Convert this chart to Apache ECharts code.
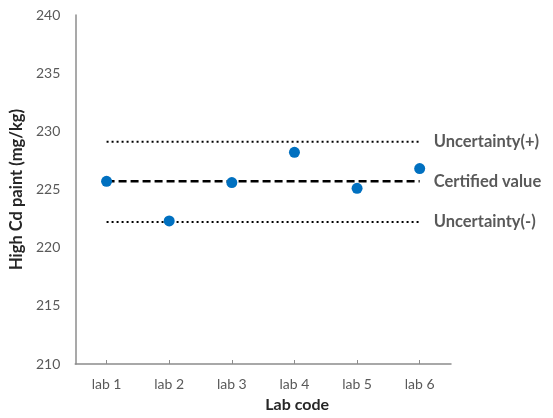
<!DOCTYPE html>
<html>
<head>
<meta charset="utf-8">
<script src="https://cdn.jsdelivr.net/npm/echarts@6/dist/echarts.min.js"></script>
<style>
  html, body { margin: 0; padding: 0; background: #fff; }
  #chart { width: 553px; height: 418px; }
</style>
</head>
<body>
<div id="chart"></div>
<script>
// Lab codes along the x axis
const labs = ['lab 1', 'lab 2', 'lab 3', 'lab 4', 'lab 5', 'lab 6'];
// Measured High Cd paint results per lab (mg/kg)
const measured = [225.7, 222.3, 225.6, 228.2, 225.1, 226.8];
// Reference lines (mg/kg)
const certifiedValue = 225.7;
const uncertaintyUpper = 229.1;
const uncertaintyLower = 222.2;
// Y axis range
const yMin = 210, yMax = 240, yStep = 5;

const textColor = '#595959';
const fontFamily = 'Lato, "Liberation Sans", sans-serif';

function refLine(name, value, type, width) {
  return {
    name: name,
    type: 'line',
    data: labs.map(() => value),
    symbol: 'none',
    silent: true,
    z: 2,
    lineStyle: { color: '#000', width: width, type: type },
    endLabel: {
      show: true,
      formatter: name,
      distance: 14,
      color: textColor,
      fontFamily: fontFamily,
      fontWeight: 'bold',
      fontSize: 16.5
    }
  };
}

const chart = echarts.init(document.getElementById('chart'));
chart.setOption({
  animation: false,
  backgroundColor: '#fff',
  grid: { left: 73, right: 102, top: 15, bottom: 51 },
  xAxis: {
    type: 'category',
    data: labs,
    boundaryGap: true,
    name: 'Lab code',
    nameLocation: 'middle',
    nameGap: 33,
    nameTextStyle: {
      color: '#262626', fontFamily: fontFamily, fontWeight: 'bold', fontSize: 16,
      padding: [0, 0, 0, 68]
    },
    axisLine: { lineStyle: { color: '#8c8c8c', width: 1.5 } },
    axisTick: { show: true, alignWithLabel: true, inside: true, length: 4, lineStyle: { color: '#8c8c8c' } },
    axisLabel: { color: textColor, fontFamily: fontFamily, fontSize: 14, margin: 13 },
    splitLine: { show: false }
  },
  yAxis: {
    type: 'value',
    min: yMin,
    max: yMax,
    interval: yStep,
    name: 'High Cd paint (mg/kg)',
    nameLocation: 'middle',
    nameGap: 46,
    nameTextStyle: { color: '#262626', fontFamily: fontFamily, fontWeight: 'bold', fontSize: 16.5 },
    axisLine: { show: true, lineStyle: { color: '#8c8c8c', width: 1.5 } },
    axisTick: { show: false },
    axisLabel: { color: textColor, fontFamily: fontFamily, fontSize: 14, margin: 15 },
    splitLine: { show: false }
  },
  series: [
    refLine('Uncertainty(+)', uncertaintyUpper, [2, 3], 2),
    refLine('Certified value', certifiedValue, [8, 4], 2.5),
    refLine('Uncertainty(-)', uncertaintyLower, [2, 3], 2),
    {
      name: 'Measured',
      type: 'scatter',
      data: measured,
      symbol: 'circle',
      symbolSize: 11,
      z: 5,
      itemStyle: { color: '#0070C0', opacity: 1 }
    }
  ]
});
</script>
</body>
</html>
